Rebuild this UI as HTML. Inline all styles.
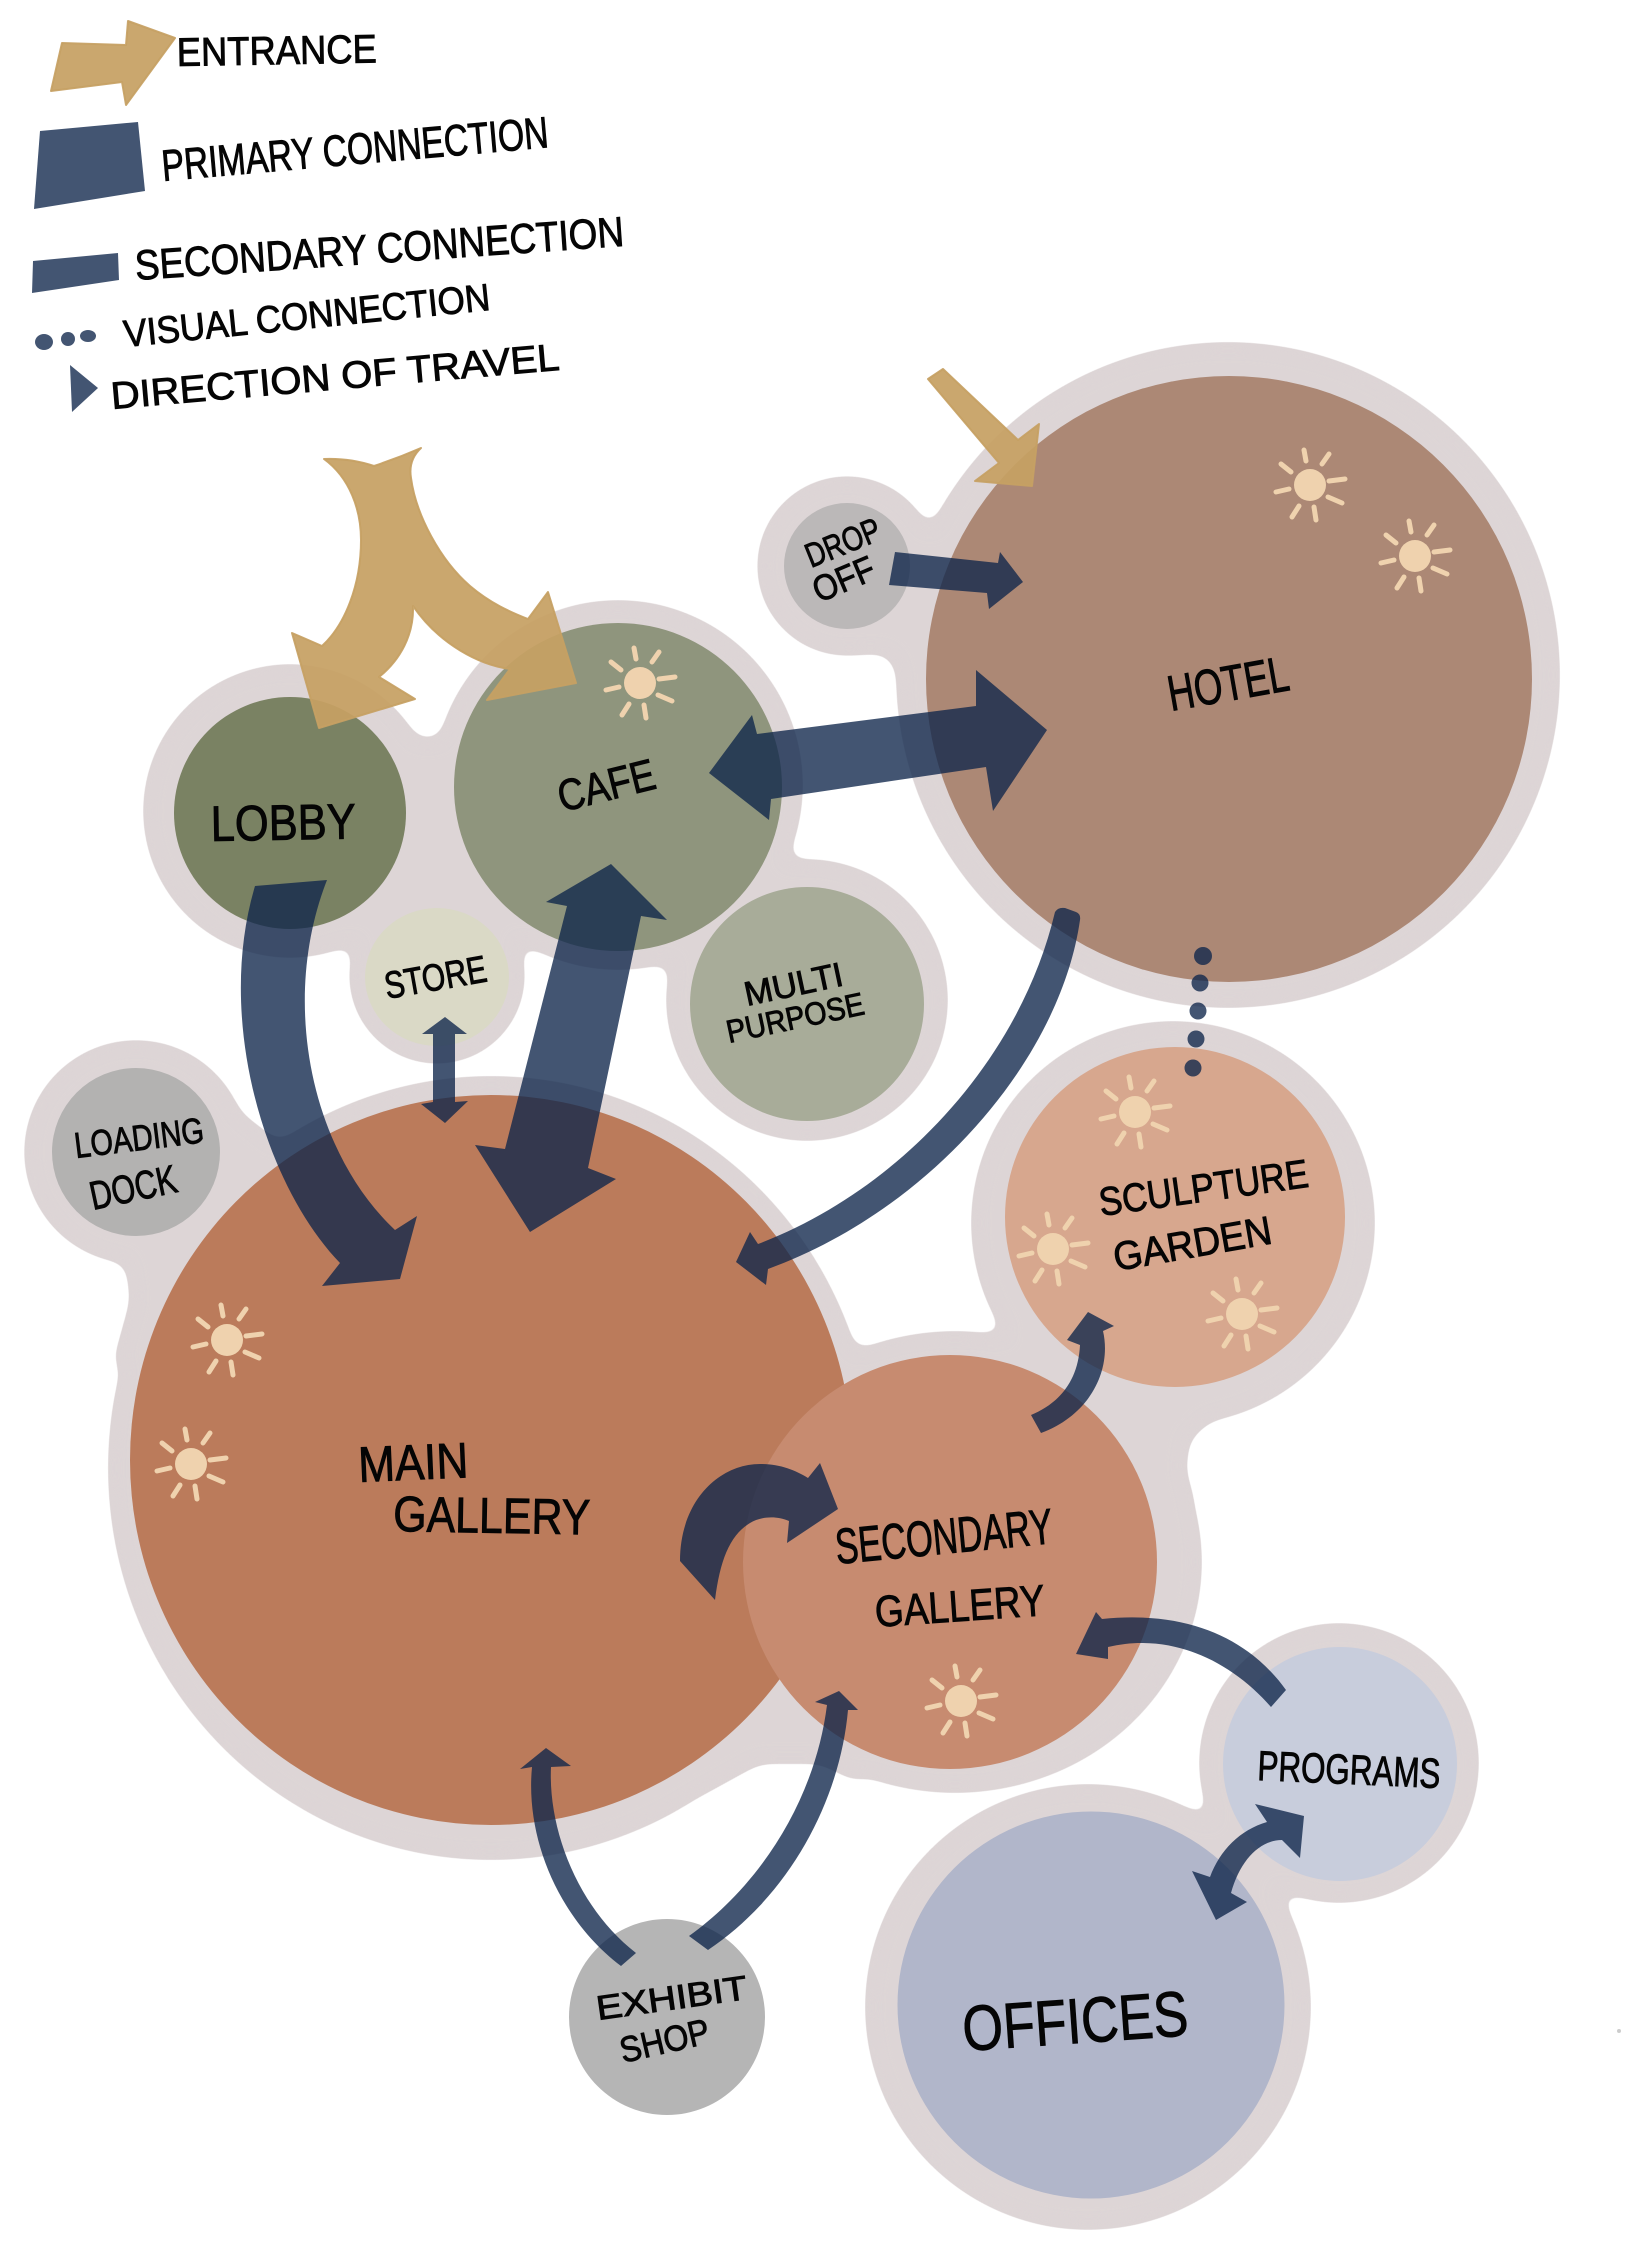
<!DOCTYPE html>
<html><head><meta charset="utf-8"><style>
html,body{margin:0;padding:0;background:#fff}
svg{display:block}
text{font-family:"Liberation Sans",sans-serif;fill:#050505;stroke:#050505;stroke-width:.9}
</style></head><body>
<svg width="1640" height="2263" viewBox="0 0 1640 2263" xmlns="http://www.w3.org/2000/svg">
<defs>
<filter id="goo" x="-5%" y="-5%" width="110%" height="110%" color-interpolation-filters="sRGB">
<feGaussianBlur stdDeviation="9"/>
<feComponentTransfer><feFuncA type="linear" slope="24" intercept="-11.5"/></feComponentTransfer>
</filter>
<g id="sun">
<circle r="16" fill="#EFD2AE"/>
<g stroke="#EFD2AE" stroke-width="5" stroke-linecap="round" fill="none">
<path d="M-4,-24L-6,-35M12,-21L19,-31M19,-4L35,-6M18,12L32,18M4,22L6,35M-11,21L-18,32M-21,4L-34,7M-19,-13L-29,-21"/>
</g>
</g>
</defs>
<rect width="1640" height="2263" fill="#fff"/>

<!-- halos -->
<g filter="url(#goo)" fill="#DDD5D6">
<ellipse cx="1228" cy="675" rx="332" ry="333"/>
<circle cx="847" cy="566" r="90"/>
<path d="M845,656 L880,654 Q896,656 897,685 L950,685 L950,560 L845,560Z"/>
</g>
<g filter="url(#goo)" fill="#DDD5D6">
<circle cx="290" cy="811" r="147"/>
<circle cx="618" cy="785" r="185"/>
<circle cx="437" cy="976" r="88"/>
<circle cx="807" cy="1000" r="141"/>
<rect x="380" y="738" width="130" height="200"/>
</g>
<g filter="url(#goo)" fill="#DDD5D6">
<circle cx="136" cy="1152" r="112"/>
<ellipse cx="491" cy="1468" rx="383" ry="392"/>
<ellipse cx="955" cy="1562" rx="247" ry="231"/>
<circle cx="1173" cy="1223" r="202"/>
<path d="M225,1100 L290,1150 L240,1190Z"/>
<path d="M100,1255 L125,1262 L130,1300 L112,1365 L190,1365 L190,1200Z"/>
<path d="M1100,1400 L1215,1417 L1190,1440 L1186,1470 L1195,1500 L1100,1560Z"/>
<path d="M700,1680 L860,1680 L860,1784 L820,1764 L760,1764 L700,1797Z"/>
</g>
<g filter="url(#goo)" fill="#DDD5D6">
<circle cx="1339" cy="1763" r="140"/>
<circle cx="1088" cy="2007" r="223"/>
</g>

<!-- rooms -->
<circle cx="1229" cy="679" r="303" fill="#AC8875"/>
<circle cx="847" cy="566" r="63" fill="#BBB8B8"/>
<circle cx="290" cy="813" r="116" fill="#7A8263"/>
<circle cx="618" cy="787" r="164" fill="#8F957D"/>
<ellipse cx="437" cy="977" rx="72" ry="69" fill="#DAD9C6"/>
<circle cx="807" cy="1004" r="117" fill="#A8AC99"/>
<circle cx="136" cy="1152" r="84" fill="#B3B2B1"/>
<ellipse cx="491" cy="1460" rx="361" ry="365" fill="#BB7B5B"/>
<circle cx="950" cy="1562" r="207" fill="#C78B70"/>
<circle cx="1175" cy="1217" r="170" fill="#D7A78E"/>
<circle cx="1340" cy="1764" r="117" fill="#C8CDDC"/>
<circle cx="1091" cy="2005" r="193.5" fill="#B1B6CA"/>
<circle cx="667" cy="2017" r="98" fill="#B5B5B5"/>
<circle cx="1619" cy="2031" r="2" fill="#ccc"/>

<!-- suns -->
<use href="#sun" x="1310" y="485"/>
<use href="#sun" x="1415" y="556"/>
<use href="#sun" x="640" y="683"/>
<use href="#sun" x="1135" y="1112"/>
<use href="#sun" x="1053" y="1249"/>
<use href="#sun" x="1242" y="1314"/>
<use href="#sun" x="227" y="1340"/>
<use href="#sun" x="191" y="1464"/>
<use href="#sun" x="961" y="1701"/>

<!-- entrance arrows -->
<g fill="#C6A063" fill-opacity=".93" stroke="#C6A063" stroke-opacity=".93" stroke-width="2" stroke-linejoin="round">
<path d="M324,459 Q350,458 374,466 Q398,458 421,448 Q408,460 411,478 C416,515 440,560 470,586 C490,603 510,612 528,619 L548,592 L576,683 L487,700 L510,669 C480,665 440,645 413,606 C414,635 400,660 379,677 L415,699 L319,728 L292,633 L322,646 C345,625 361,585 361,540 C361,510 350,478 324,459Z"/>
<path d="M928,379 L943,369 L1018,440 L1039,424 L1032,486 L975,481 L999,463Z"/>
<path d="M62,43 L126,45 L128,21 L175,38 L126,105 L122,82 L51,91Z"/>
</g>

<!-- connections -->
<g fill="#0E254A" fill-opacity=".78">
<path d="M255,886 L327,880 C280,1000 310,1150 395,1230 L417,1216 L400,1279 L322,1286 L340,1263 C265,1185 215,1020 255,886Z"/>
<path d="M611,864 L667,920 L641,916 L588,1168 L616,1179 L530,1232 L475,1145 L505,1149 L567,906 L546,902Z"/>
<path d="M445,1017 L467,1034 L455,1034 L455,1102 L468,1101 L445,1123 L421,1104 L433,1102 L433,1034 L422,1034Z"/>
<path d="M709,773 L752,715 L757,734 L976,706 L976,670 L1047,730 L993,811 L986,767 L771,799 L769,820Z"/>
<path d="M895,552 L998,563 L1000,552 L1023,582 L989,609 L987,593 L889,585Z"/>
<path d="M1055,912 Q1058,907 1065,908 L1076,912 Q1081,914 1080,920 C1060,1060 930,1210 768,1269 L766,1285 L736,1262 L750,1232 L758,1244 C900,1190 1020,1060 1055,912Z"/>
<path d="M680,1561 C680,1500 720,1464 760,1464 C780,1464 795,1470 808,1478 L820,1463 L838,1509 L787,1543 L789,1521 C775,1515 760,1517 750,1523 C730,1535 720,1560 715,1600Z"/>
<path d="M1031,1415 C1055,1405 1078,1385 1080,1345 L1067,1340 L1088,1312 L1114,1326 L1103,1331 C1112,1370 1090,1415 1041,1433Z"/>
<path d="M1286,1690 C1250,1640 1190,1610 1102,1619 L1096,1612 L1076,1654 L1108,1659 L1108,1647 C1170,1632 1230,1660 1271,1707Z"/>
<path d="M1255,1804 L1304,1816 L1300,1858 L1282,1840 C1260,1840 1240,1860 1231,1893 L1247,1902 L1216,1920 L1192,1871 L1210,1877 C1220,1850 1240,1830 1267,1822Z"/>
<path d="M546,1748 L571,1766 L551,1767 C548,1830 578,1908 636,1953 L621,1966 C560,1920 525,1840 532,1767 L520,1769Z"/>
<path d="M689,1936 C760,1885 815,1800 827,1705 L815,1702 L839,1691 L858,1710 L848,1710 C840,1800 790,1895 708,1950Z"/>
<path d="M40,131 L138,122 L145,191 L34,209Z"/>
<path d="M33,261 L118,253 L119,280 L32,293Z"/>
<path d="M70,365 L98,388 L72,412Z"/>
<ellipse cx="44" cy="342" rx="9" ry="8"/>
<circle cx="68" cy="339" r="7"/>
<ellipse cx="88" cy="336" rx="8" ry="6"/>
<circle cx="1203" cy="956" r="9"/>
<circle cx="1200" cy="983" r="8.5"/>
<circle cx="1198" cy="1011" r="8.5"/>
<circle cx="1196" cy="1039" r="8.5"/>
<circle cx="1193" cy="1068" r="8.5"/>
</g>

<!-- legend labels -->
<text transform="translate(177,66) rotate(-1)" font-size="40" textLength="200" lengthAdjust="spacingAndGlyphs">ENTRANCE</text>
<text transform="translate(163,181) rotate(-5)" font-size="44" textLength="388" lengthAdjust="spacingAndGlyphs">PRIMARY CONNECTION</text>
<text transform="translate(136,280) rotate(-4)" font-size="42" textLength="490" lengthAdjust="spacingAndGlyphs">SECONDARY CONNECTION</text>
<text transform="translate(125,347) rotate(-5.8)" font-size="38" textLength="368" lengthAdjust="spacingAndGlyphs">VISUAL CONNECTION</text>
<text transform="translate(112,409) rotate(-5)" font-size="38" textLength="450" lengthAdjust="spacingAndGlyphs">DIRECTION OF TRAVEL</text>

<!-- room labels -->
<text transform="translate(1171,711) rotate(-10)" font-size="50" textLength="122" lengthAdjust="spacingAndGlyphs">HOTEL</text>
<text transform="translate(211,841) rotate(-1)" font-size="50" textLength="145" lengthAdjust="spacingAndGlyphs">LOBBY</text>
<text transform="translate(562,812) rotate(-14)" font-size="44" textLength="99" lengthAdjust="spacingAndGlyphs">CAFE</text>
<text transform="translate(387,999) rotate(-10)" font-size="38" textLength="103" lengthAdjust="spacingAndGlyphs">STORE</text>
<text transform="translate(747,1006) rotate(-12)" font-size="34" textLength="100" lengthAdjust="spacingAndGlyphs">MULTI</text>
<text transform="translate(729,1043) rotate(-12)" font-size="32" textLength="140" lengthAdjust="spacingAndGlyphs">PURPOSE</text>
<text transform="translate(76,1158) rotate(-7)" font-size="36" textLength="130" lengthAdjust="spacingAndGlyphs">LOADING</text>
<text transform="translate(93,1210) rotate(-12)" font-size="40" textLength="88" lengthAdjust="spacingAndGlyphs">DOCK</text>
<text transform="translate(811,568) rotate(-22)" font-size="34" textLength="78" lengthAdjust="spacingAndGlyphs">DROP</text>
<text transform="translate(819,603) rotate(-23)" font-size="36" textLength="64" lengthAdjust="spacingAndGlyphs">OFF</text>
<text transform="translate(359,1482) rotate(-2.5)" font-size="50" textLength="110" lengthAdjust="spacingAndGlyphs">MAIN</text>
<text transform="translate(393,1531) rotate(1)" font-size="50" textLength="197" lengthAdjust="spacingAndGlyphs">GALLERY</text>
<text transform="translate(837,1564) rotate(-5.5)" font-size="50" textLength="218" lengthAdjust="spacingAndGlyphs">SECONDARY</text>
<text transform="translate(876,1627) rotate(-4)" font-size="44" textLength="170" lengthAdjust="spacingAndGlyphs">GALLERY</text>
<text transform="translate(1101,1216) rotate(-8)" font-size="40" textLength="211" lengthAdjust="spacingAndGlyphs">SCULPTURE</text>
<text transform="translate(1116,1271) rotate(-10)" font-size="40" textLength="160" lengthAdjust="spacingAndGlyphs">GARDEN</text>
<text transform="translate(1257,1780) rotate(2.5)" font-size="42" textLength="183" lengthAdjust="spacingAndGlyphs">PROGRAMS</text>
<text transform="translate(964,2051) rotate(-4)" font-size="64" textLength="226" lengthAdjust="spacingAndGlyphs">OFFICES</text>
<text transform="translate(598,2020) rotate(-8)" font-size="34" textLength="152" lengthAdjust="spacingAndGlyphs">EXHIBIT</text>
<text transform="translate(623,2063) rotate(-13)" font-size="36" textLength="91" lengthAdjust="spacingAndGlyphs">SHOP</text>
</svg>
</body></html>
